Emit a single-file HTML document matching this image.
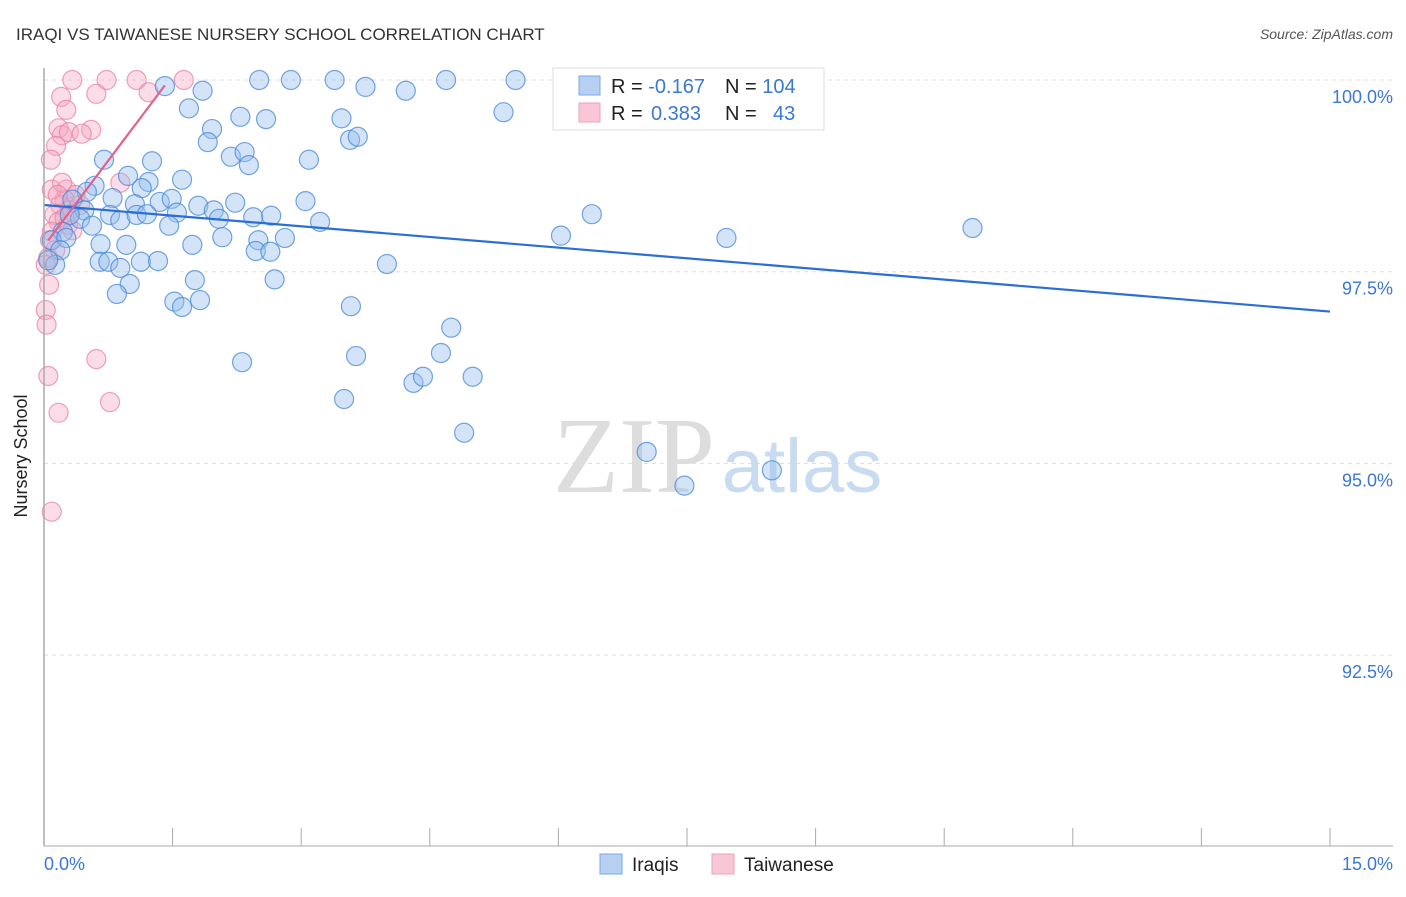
<!DOCTYPE html>
<html><head><meta charset="utf-8"><style>
body{margin:0;background:#fff;font-family:"Liberation Sans",sans-serif}
</style></head><body>
<svg width="1406" height="892" xmlns="http://www.w3.org/2000/svg">
<text x="16" y="40" font-size="17" fill="#333">IRAQI VS TAIWANESE NURSERY SCHOOL CORRELATION CHART</text>
<text x="1393" y="39" font-size="14" fill="#555" font-style="italic" text-anchor="end">Source: ZipAtlas.com</text>
<g id="grid"></g>
<text x="634" y="492" font-size="108" fill="#ddd" font-family="Liberation Serif,serif" text-anchor="middle">ZIP</text>
<text x="802" y="492" font-size="76" fill="#c9dbf0" text-anchor="middle">atlas</text>
<g id="pts"></g>
<g id="lines"></g>
<line x1="44" y1="68" x2="44" y2="846" stroke="#aaa" stroke-width="1.5"/>
<line x1="44" y1="846" x2="1393" y2="846" stroke="#aaa" stroke-width="1"/>
<text x="27" y="456" font-size="18" fill="#222" text-anchor="middle" transform="rotate(-90 27 456)">Nursery School</text>
<text x="44" y="870" font-size="18" fill="#3a78d6">0.0%</text>
<text x="1393" y="870" font-size="18" fill="#3a78d6" text-anchor="end">15.0%</text>
<g>
<rect x="553" y="68" width="271" height="62" fill="#fff" stroke="#ddd"/>
<rect x="579" y="76" width="21" height="19" fill="#b7d0f2" stroke="#7aa8e6"/>
<rect x="579" y="103" width="21" height="19" fill="#f9c6d6" stroke="#eda3bb"/>
<text x="611" y="93" font-size="20" fill="#222">R = <tspan fill="#3a78d6">-0.167</tspan></text>
<text x="725" y="93" font-size="20" fill="#222">N = <tspan fill="#3a78d6">104</tspan></text>
<text x="611" y="120" font-size="20" fill="#222">R = <tspan fill="#3a78d6" x="651">0.383</tspan></text>
<text x="725" y="120" font-size="20" fill="#222">N = <tspan fill="#3a78d6" x="773">43</tspan></text>
</g>
<g>
<rect x="600" y="854" width="22" height="20" fill="#b7d0f2" stroke="#7aa8e6"/>
<text x="632" y="871" font-size="19" fill="#222">Iraqis</text>
<rect x="712" y="854" width="22" height="20" fill="#f9c6d6" stroke="#eda3bb"/>
<text x="744" y="871" font-size="19" fill="#222">Taiwanese</text>
</g>
</svg>
<script>
const yTicks=[100,97.5,95,92.5];
const yTickLabels=["100.0%","97.5%","95.0%","92.5%"];
const blueX=[1.41,1.85,2.51,2.88,3.39,3.75,4.22,4.69,5.50,5.36,6.62,7.79,1.69,1.96,1.91,2.29,2.59,3.47,3.57,3.66,2.18,2.34,2.39,3.09,0.70,1.26,0.98,1.22,1.61,1.14,0.59,0.50,0.33,0.80,1.35,1.49,1.80,2.23,3.05,0.47,0.42,0.30,0.77,0.89,1.06,1.08,1.20,1.55,1.98,2.04,2.44,2.65,3.22,1.46,0.56,0.22,0.09,0.26,0.66,0.96,1.73,2.08,2.50,2.81,2.47,2.64,0.19,0.65,0.75,0.89,1.13,1.33,1.00,0.85,1.76,2.69,4.00,6.03,6.39,7.96,10.83,1.52,1.61,1.82,3.58,2.31,3.64,4.75,4.63,4.31,4.42,5.00,3.50,4.90,7.03,7.47,8.49,0.13,0.05];
const blueY=[99.92,99.86,100,100,100,99.91,99.86,100,100,99.58,100,100,99.63,99.36,99.19,99.52,99.49,99.50,99.22,99.26,99.00,99.06,98.89,98.96,98.96,98.94,98.75,98.67,98.70,98.59,98.62,98.54,98.44,98.46,98.41,98.45,98.36,98.40,98.42,98.30,98.19,98.24,98.24,98.17,98.38,98.24,98.25,98.27,98.30,98.19,98.21,98.23,98.15,98.10,98.10,98.02,97.91,97.94,97.86,97.85,97.85,97.95,97.91,97.94,97.77,97.76,97.78,97.63,97.63,97.55,97.63,97.64,97.34,97.21,97.39,97.40,97.60,97.97,98.25,97.94,98.07,97.11,97.04,97.13,97.05,96.32,96.40,96.77,96.44,96.05,96.13,96.13,95.84,95.40,95.15,94.71,94.91,97.59,97.65];
const pinkX=[0.33,0.73,1.08,1.63,0.61,1.22,0.20,0.26,0.17,0.21,0.29,0.55,0.44,0.14,0.08,0.89,0.26,0.37,0.24,0.30,0.19,0.12,0.17,0.28,0.09,0.13,0.05,0.06,0.02,0.03,0.61,0.05,0.77,0.17,0.09,0.09,0.21,0.16,0.24,0.07,0.02,0.42,0.33];
const pinkY=[100,100,100,100,99.82,99.84,99.78,99.61,99.37,99.28,99.32,99.35,99.30,99.14,98.96,98.66,98.57,98.50,98.44,98.30,98.37,98.24,98.15,98.11,98.02,97.78,97.68,97.33,97.00,96.81,96.36,96.14,95.80,95.66,94.37,98.57,98.66,98.50,98.20,97.91,97.59,98.37,98.04];
const blueLine=[[0,98.37],[15,96.98]];
const pinkLine=[[0.05,97.91],[1.41,99.93]];
const NS="http://www.w3.org/2000/svg";
const sx=v=>44+v/15*1286;
const sy=v=>80+(100-v)/2.5*191.7;
const grid=document.getElementById('grid');
yTicks.forEach((t,i)=>{
 const l=document.createElementNS(NS,'line');
 l.setAttribute('x1',44);l.setAttribute('x2',1393);l.setAttribute('y1',sy(t));l.setAttribute('y2',sy(t));
 l.setAttribute('stroke','#ddd');l.setAttribute('stroke-dasharray','4 4');
 
 
 grid.appendChild(l);
 const tx=document.createElementNS(NS,'text');
 tx.setAttribute('x',1393);tx.setAttribute('y',sy(t)+23);tx.setAttribute('text-anchor','end');
 tx.setAttribute('font-size','18');tx.setAttribute('fill','#3a78d6');tx.textContent=yTickLabels[i];
 
 
 grid.appendChild(tx);
});
for(let k=0;k<=10;k++){
 const l=document.createElementNS(NS,'line');
 const x=sx(k*1.5);
 l.setAttribute('x1',x);l.setAttribute('x2',x);l.setAttribute('y1',828);l.setAttribute('y2',846);
 l.setAttribute('stroke','#aaa');
 
 
 grid.appendChild(l);
}
const pts=document.getElementById('pts');
function dots(xs,ys,fill,stroke,name){
 xs.forEach((x,i)=>{
  const c=document.createElementNS(NS,'circle');
  c.setAttribute('cx',sx(x));c.setAttribute('cy',sy(ys[i]));c.setAttribute('r',9.5);
  c.setAttribute('fill',fill);c.setAttribute('stroke',stroke);c.setAttribute('stroke-width','1.2');
  
  
  pts.appendChild(c);
 });
}
dots(pinkX,pinkY,'rgba(246,168,194,0.4)','rgba(232,130,165,0.75)','taiwanese-point');
dots(blueX,blueY,'rgba(150,190,238,0.42)','rgba(70,135,215,0.75)','iraqi-point');
const lines=document.getElementById('lines');
function ln(p,col,name){
 const l=document.createElementNS(NS,'line');
 l.setAttribute('x1',sx(p[0][0]));l.setAttribute('y1',sy(p[0][1]));
 l.setAttribute('x2',sx(p[1][0]));l.setAttribute('y2',sy(p[1][1]));
 l.setAttribute('stroke',col);l.setAttribute('stroke-width','2.2');
 
 
 lines.appendChild(l);
}
ln(blueLine,'#2b6fd6','iraqi-trendline');
ln(pinkLine,'#e0628e','taiwanese-trendline');
</script>
</body></html>
